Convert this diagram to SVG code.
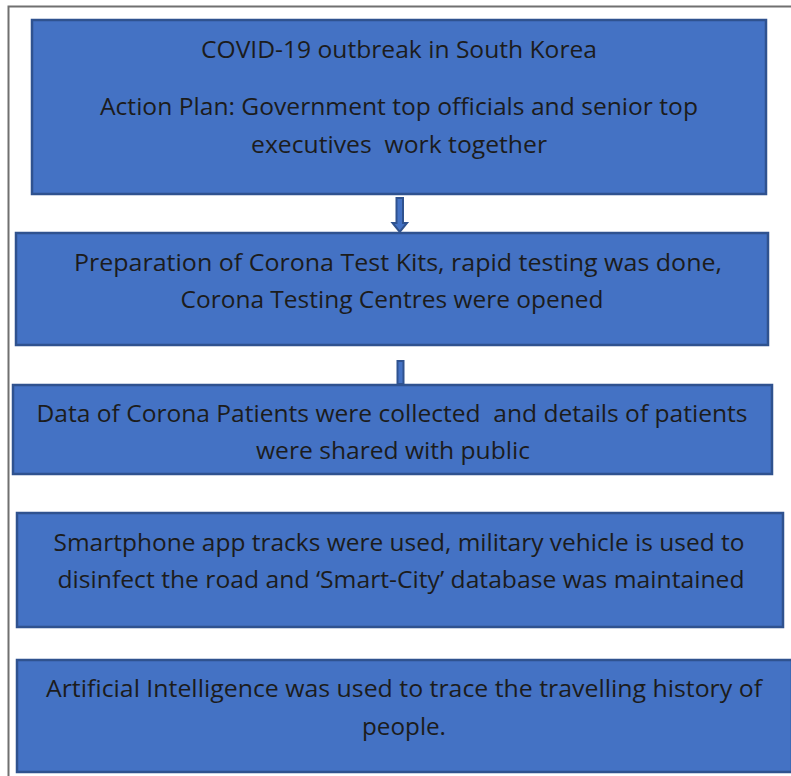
<svg xmlns="http://www.w3.org/2000/svg" width="791" height="776" viewBox="0 0 791 776">
  <style>
    .box { fill: #4472C4; stroke: #2F528F; stroke-width: 2.5; }
    .lbl { font-family: "Open Sans", "Noto Sans", "Liberation Sans", sans-serif; font-size: 23px; fill: #1c1c1c; text-anchor: middle; }
    .conn { fill: #4472C4; stroke: #2F528F; stroke-width: 2; }
  </style>
  <rect width="791" height="776" fill="#ffffff"/>
  <!-- outer frame -->
  <path d="M8.5 776 V6.5 H791" fill="none" stroke="#707070" stroke-width="2"/>

  <g id="outbreak">
    <rect class="box" x="32" y="20" width="734" height="174"/>
    <text class="lbl" x="399" y="58" textLength="396" lengthAdjust="spacingAndGlyphs">COVID-19 outbreak in South Korea</text>
    <text class="lbl" x="399" y="115" textLength="598" lengthAdjust="spacingAndGlyphs">Action Plan: Government top officials and senior top</text>
    <text class="lbl" x="399" y="153" textLength="296" lengthAdjust="spacingAndGlyphs" xml:space="preserve">executives  work together</text>
  </g>

  <g id="test-kits">
    <rect class="box" x="16" y="233" width="752" height="112"/>
    <text class="lbl" x="398" y="271" textLength="648" lengthAdjust="spacingAndGlyphs">Preparation of Corona Test Kits, rapid testing was done,</text>
    <text class="lbl" x="392" y="308" textLength="423" lengthAdjust="spacingAndGlyphs">Corona Testing Centres were opened</text>
  </g>

  <g id="patient-data">
    <rect class="box" x="13" y="385" width="759" height="89"/>
    <text class="lbl" x="392" y="422" textLength="711" lengthAdjust="spacingAndGlyphs" xml:space="preserve">Data of Corona Patients were collected  and details of patients</text>
    <text class="lbl" x="393" y="459" textLength="274" lengthAdjust="spacingAndGlyphs">were shared with public</text>
  </g>

  <g id="smart-city">
    <rect class="box" x="17" y="513" width="766" height="114"/>
    <text class="lbl" x="399" y="551" textLength="691" lengthAdjust="spacingAndGlyphs">Smartphone app tracks were used, military vehicle is used to</text>
    <text class="lbl" x="401" y="588" textLength="687" lengthAdjust="spacingAndGlyphs">disinfect the road and ‘Smart-City’ database was maintained</text>
  </g>

  <g id="ai-tracing">
    <rect class="box" x="17" y="660" width="775" height="112"/>
    <text class="lbl" x="404" y="697" textLength="716" lengthAdjust="spacingAndGlyphs">Artificial Intelligence was used to trace the travelling history of</text>
    <text class="lbl" x="404" y="735" textLength="84" lengthAdjust="spacingAndGlyphs">people.</text>
  </g>

  <g id="connectors">
    <path class="conn" d="M396.5 198 H403 V223 H407 L399.75 232 L392.5 223 H396.5 Z"/>
    <rect class="conn" x="397.5" y="361" width="6" height="23"/>
  </g>
</svg>
